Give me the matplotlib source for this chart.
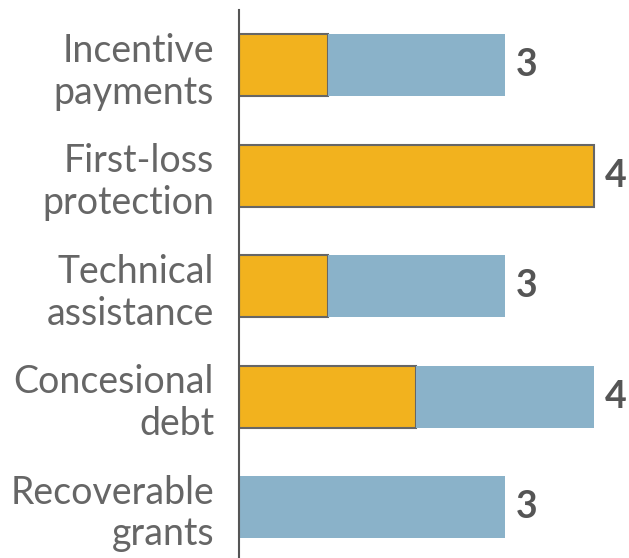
import matplotlib.pyplot as plt

categories = ["Incentive\npayments", "First-loss\nprotection", "Technical\nassistance",
              "Concesional\ndebt", "Recoverable\ngrants"]
orange_vals = [1, 4, 1, 2, 0]
blue_vals = [2, 0, 2, 2, 3]
totals = [o + b for o, b in zip(orange_vals, blue_vals)]

plt.rcParams['font.family'] = ['Lato', 'DejaVu Sans']

fig = plt.figure(figsize=(6.29, 5.58), dpi=100)
ax = fig.add_axes([239 / 629, 0, 390 / 629, 548 / 558])

y = list(range(len(categories)))
ax.barh(y, orange_vals, height=0.56, color="#F2B21E", edgecolor="#666666", linewidth=1.5)
ax.barh(y, blue_vals, left=orange_vals, height=0.56, color="#8AB2C9", linewidth=0)

for yi, t in zip(y, totals):
    ax.text(t + 0.12, yi, str(t), va="center", ha="left", fontsize=27,
            color="#555555", fontweight="bold")

ax.set_yticks(y)
ax.set_yticklabels(categories, fontsize=27, color="#666666", linespacing=1.2)
ax.tick_params(axis="y", length=0, pad=18)
ax.set_xticks([])
ax.set_xlim(0, 390 / 88.7)
ax.set_ylim(4.46, -0.5)
for s in ["top", "right", "bottom"]:
    ax.spines[s].set_visible(False)
ax.spines["left"].set_color("#555555")
ax.spines["left"].set_linewidth(1.5)

fig.savefig("out.png", dpi=100)
